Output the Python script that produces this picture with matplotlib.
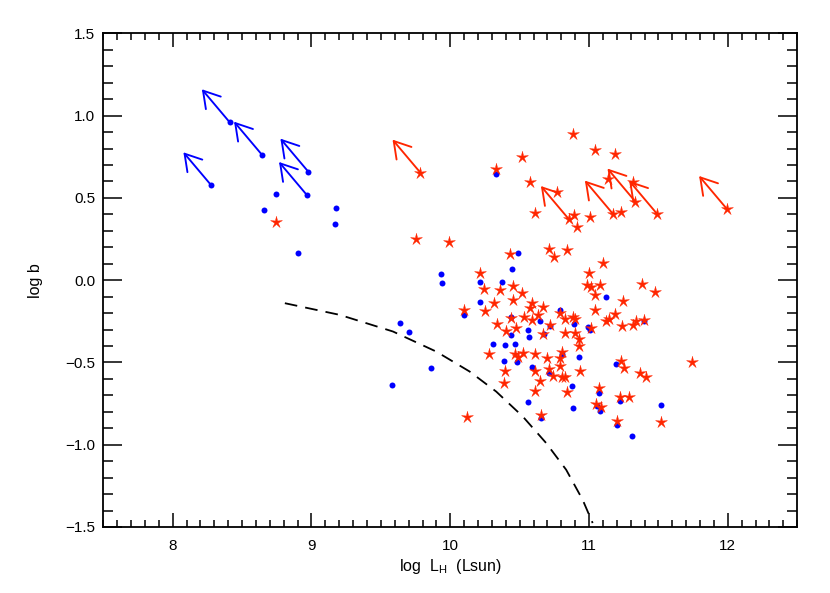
import matplotlib
matplotlib.use("Agg")
import matplotlib.pyplot as plt
from matplotlib.path import Path
from matplotlib.ticker import MultipleLocator
import numpy as np

plt.rcParams['font.family'] = ['Liberation Sans', 'DejaVu Sans']
plt.rcParams['mathtext.fontset'] = 'custom'
plt.rcParams['mathtext.rm'] = 'Liberation Sans'

# blue points (detections)
blue_x = [8.743, 8.659, 9.175, 9.168, 8.906, 9.93, 9.94, 10.328, 10.491, 10.446,
          10.211, 10.376, 11.12, 10.211, 10.096, 10.793, 9.635, 9.70, 9.858, 9.58,
          10.438, 10.643, 10.561, 10.568, 10.436, 10.31, 10.393, 10.47, 10.673, 10.719,
          10.892, 10.993, 11.004, 11.398, 10.808, 10.925, 10.384, 10.482, 10.587, 10.712,
          10.874, 11.074, 11.196, 11.223, 11.06, 11.079, 11.518, 10.563, 10.882, 10.657,
          11.201, 11.309]
blue_y = [0.524, 0.425, 0.441, 0.342, 0.166, 0.04, -0.016, 0.646, 0.164, 0.07,
          -0.012, -0.010, -0.101, -0.132, -0.211, -0.18, -0.261, -0.316, -0.535, -0.64,
          -0.221, -0.247, -0.302, -0.346, -0.336, -0.387, -0.395, -0.389, -0.328, -0.278,
          -0.265, -0.282, -0.3, -0.247, -0.448, -0.468, -0.494, -0.496, -0.525, -0.567,
          -0.646, -0.685, -0.51, -0.733, -0.762, -0.794, -0.756, -0.741, -0.778, -0.835,
          -0.883, -0.948]

# blue points that are limits (drawn with arrows)
blue_lim_x = [8.277, 8.41, 8.642, 8.976, 8.966]
blue_lim_y = [0.577, 0.96, 0.763, 0.66, 0.518]

# red stars
red_x = [8.743, 9.753, 9.99, 10.882, 11.045, 11.184, 10.516, 10.326, 10.574, 10.772,
         11.135, 11.32, 10.612, 10.888, 10.91, 11.005, 11.233, 10.712, 10.842, 10.745,
         10.427, 11.101, 10.997, 10.211, 10.453, 10.988, 11.017, 11.076, 11.378, 11.477,
         10.242, 10.355, 10.52, 10.45, 11.04, 11.247, 10.314, 10.1, 10.249, 10.587,
         10.576, 10.671, 11.043, 11.189, 10.532, 10.59, 10.63, 10.434, 10.338, 10.403,
         10.477, 10.721, 10.824, 10.882, 10.899, 10.827, 10.896, 10.925, 10.93, 11.014,
         11.12, 11.144, 11.235, 11.317, 11.336, 11.393, 10.276, 10.465, 10.487, 10.523,
         10.614, 10.70, 10.808, 10.794, 10.789, 10.611, 10.714, 10.741, 10.803, 10.827,
         10.932, 10.393, 10.384, 10.647, 10.609, 10.839, 11.074, 11.227, 11.254, 11.364,
         11.41, 11.741, 11.22, 11.288, 11.053, 11.084, 11.201, 11.52, 10.657, 10.124,
         10.667, 10.788]
red_y = [0.352, 0.249, 0.233, 0.889, 0.79, 0.767, 0.751, 0.674, 0.595, 0.537,
         0.617, 0.595, 0.41, 0.399, 0.323, 0.386, 0.415, 0.19, 0.186, 0.142,
         0.156, 0.107, 0.046, 0.042, -0.035, -0.03, -0.041, -0.027, -0.024, -0.071,
         -0.055, -0.061, -0.077, -0.122, -0.091, -0.128, -0.14, -0.182, -0.187, -0.136,
         -0.172, -0.164, -0.179, -0.207, -0.225, -0.241, -0.211, -0.227, -0.267, -0.308,
         -0.292, -0.27, -0.235, -0.221, -0.239, -0.324, -0.322, -0.357, -0.403, -0.288,
         -0.247, -0.233, -0.278, -0.274, -0.247, -0.243, -0.448, -0.448, -0.464, -0.444,
         -0.45, -0.474, -0.434, -0.474, -0.519, -0.549, -0.539, -0.581, -0.586, -0.589,
         -0.553, -0.553, -0.624, -0.614, -0.673, -0.679, -0.656, -0.49, -0.531, -0.567,
         -0.586, -0.5, -0.707, -0.713, -0.751, -0.768, -0.857, -0.859, -0.82, -0.83,
         -0.33, -0.2]

# red stars that are limits (drawn with arrows)
red_lim_x = [9.784, 10.853, 11.17, 11.333, 11.489, 11.993]
red_lim_y = [0.654, 0.372, 0.405, 0.478, 0.404, 0.433]

# dashed model curve
curve_x = [8.808, 9.204, 9.587, 9.899, 10.139, 10.331, 10.523, 10.691, 10.835, 10.954, 11.026]
curve_y = [-0.140, -0.211, -0.312, -0.434, -0.555, -0.677, -0.829, -0.99, -1.152, -1.335, -1.476]

arrow_dx, arrow_dy = -0.2, 0.2
red = '#ff2600'
blue = '#0000ff'

star = Path.unit_regular_star(5, 0.3)

fig = plt.figure(figsize=(8.3, 5.93), dpi=100)
ax = fig.add_axes([0.1245, 0.1113, 0.836, 0.8325])

ax.plot(curve_x, curve_y, color='black', lw=1.3, dashes=(7, 4.5))

arrow_style = "->,head_length=1.15,head_width=0.7"
for x, y in zip(blue_lim_x, blue_lim_y):
    ax.annotate("", xy=(x + arrow_dx, y + arrow_dy), xytext=(x, y),
                arrowprops=dict(arrowstyle=arrow_style, color=blue, lw=1.35,
                                shrinkA=0, shrinkB=0, mutation_scale=10))
for x, y in zip(red_lim_x, red_lim_y):
    ax.annotate("", xy=(x + arrow_dx, y + arrow_dy), xytext=(x, y),
                arrowprops=dict(arrowstyle=arrow_style, color=red, lw=1.35,
                                shrinkA=0, shrinkB=0, mutation_scale=10))

ax.plot(blue_x + blue_lim_x, blue_y + blue_lim_y, 'o', color=blue, ms=4.3, mew=0)
ax.plot(red_x + red_lim_x, red_y + red_lim_y, ls='none', marker=star, color=red, ms=9, mew=0.3)

ax.set_xlim(7.5, 12.5)
ax.set_ylim(-1.5, 1.5)
ax.xaxis.set_major_locator(MultipleLocator(1))
ax.xaxis.set_minor_locator(MultipleLocator(0.1))
ax.yaxis.set_major_locator(MultipleLocator(0.5))
ax.yaxis.set_minor_locator(MultipleLocator(0.1))
ax.set_yticklabels([f"{v:.1f}".replace('-', '\u2212') for v in ax.get_yticks()])

ax.tick_params(which='both', direction='in', top=True, right=True, width=1.1, labelsize=11)
ax.tick_params(axis='x', which='major', length=10, pad=8.5)
ax.tick_params(axis='x', which='minor', length=5)
ax.tick_params(axis='y', which='major', length=14, pad=6)
ax.tick_params(axis='y', which='minor', length=7)
for s in ax.spines.values():
    s.set_linewidth(1.3)

ax.set_xlabel(r"log  L$_\mathregular{H}$  (Lsun)", fontsize=11.5, labelpad=3)
ax.set_ylabel("log b", fontsize=11.5, labelpad=16)

fig.savefig("out.png", dpi=100)
